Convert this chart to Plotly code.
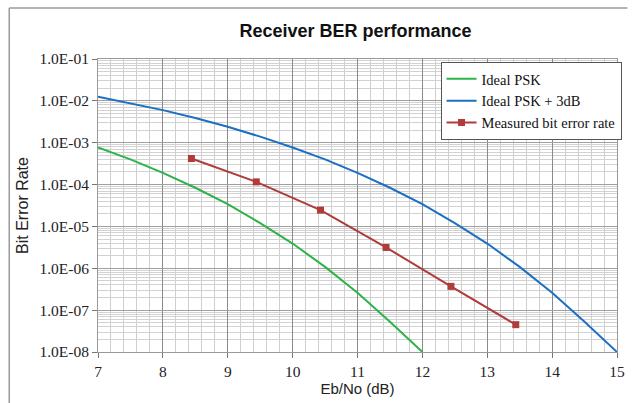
import plotly.graph_objects as go

# ---- data ----
ebno_ideal = [7.0, 7.5, 8.0, 8.5, 9.0, 9.5, 10.0, 10.5, 11.0, 11.5, 12.0]
ber_ideal = [7.7e-4, 4.0e-4, 1.9e-4, 8.4e-5, 3.4e-5, 1.2e-5, 3.9e-6, 1.08e-6, 2.6e-7, 5.3e-8, 1.0e-8]

ebno_3db = [7.0, 7.5, 8.0, 8.5, 9.0, 9.5, 10.0, 10.5, 11.0, 11.5, 12.0, 12.5, 13.0, 13.5, 14.0, 14.5, 15.0]
ber_3db = [1.25e-2, 8.8e-3, 6.0e-3, 3.9e-3, 2.4e-3, 1.4e-3, 7.7e-4, 4.0e-4, 1.9e-4, 8.4e-5,
           3.4e-5, 1.2e-5, 3.9e-6, 1.08e-6, 2.6e-7, 5.3e-8, 1.0e-8]

ebno_meas = [8.44, 9.44, 10.43, 11.44, 12.44, 13.44]
ber_meas = [4.2e-4, 1.16e-4, 2.45e-5, 3.15e-6, 3.7e-7, 4.5e-8]

y_tick_vals = [1e-1, 1e-2, 1e-3, 1e-4, 1e-5, 1e-6, 1e-7, 1e-8]
y_tick_text = ["1.0E-01", "1.0E-02", "1.0E-03", "1.0E-04", "1.0E-05", "1.0E-06", "1.0E-07", "1.0E-08"]
x_tick_vals = [7, 8, 9, 10, 11, 12, 13, 14, 15]

GREEN = "#2db34a"
BLUE = "#1c6fc2"
RED = "#b03b3b"

fig = go.Figure()
fig.add_trace(go.Scatter(x=ebno_ideal, y=ber_ideal, mode="lines", name="Ideal PSK",
                         line=dict(color=GREEN, width=2)))
fig.add_trace(go.Scatter(x=ebno_3db, y=ber_3db, mode="lines", name="Ideal PSK + 3dB",
                         line=dict(color=BLUE, width=2)))
fig.add_trace(go.Scatter(x=ebno_meas, y=ber_meas, mode="lines+markers", name="Measured bit error rate",
                         line=dict(color=RED, width=2),
                         marker=dict(symbol="square", size=7, color=RED)))

minor_y = []
for e in range(-8, -1):
    for d in range(2, 10):
        minor_y.append(d * 10.0 ** e)

tickfont = dict(family="Liberation Serif, Times New Roman, serif", size=15.5, color="#222")

fig.update_layout(
    width=635, height=403,
    margin=dict(l=97.5, r=9.5, t=59, b=51),
    paper_bgcolor="white", plot_bgcolor="white",
    title=dict(text="<b>Receiver BER performance</b>", x=0.56, xanchor="center", y=0.925, yanchor="middle",
               font=dict(family="Liberation Sans, Arial, sans-serif", size=18, color="#111")),
    showlegend=True,
    legend=dict(x=0.66, y=0.99, xanchor="left", yanchor="top",
                bgcolor="white", bordercolor="#555", borderwidth=1,
                font=dict(family="Liberation Serif, Times New Roman, serif", size=14.5, color="#111"),
                itemwidth=30, tracegroupgap=0),
    xaxis=dict(range=[7, 15], tickvals=x_tick_vals, ticks="outside", ticklen=5, tickcolor="#777",
               showline=True, linecolor="#999", mirror=True,
               showgrid=True, gridcolor="#8a8a8a", gridwidth=1,
               minor=dict(dtick=0.2, showgrid=True, gridcolor="#cfcfcf", gridwidth=1),
               tickfont=tickfont, zeroline=False,
               title=dict(text="Eb/No (dB)", standoff=2,
                          font=dict(family="Liberation Sans, Arial, sans-serif", size=15, color="#222"))),
    yaxis=dict(type="log", range=[-8, -1], tickvals=y_tick_vals, ticktext=y_tick_text,
               ticks="outside", ticklen=5, tickcolor="#777",
               showline=True, linecolor="#999", mirror=True,
               showgrid=True, gridcolor="#a0a0a0", gridwidth=1,
               minor=dict(tickvals=minor_y, showgrid=True, gridcolor="#d2d2d2", gridwidth=1),
               tickfont=tickfont, zeroline=False,
               title=dict(text="Bit Error Rate", standoff=6,
                          font=dict(family="Liberation Sans, Arial, sans-serif", size=16, color="#222"))),
    shapes=[
        dict(type="line", xref="paper", yref="paper", x0=-0.171, x1=1.02, y0=1.174, y1=1.174,
             line=dict(color="#9a9a9a", width=1.5)),
        dict(type="line", xref="paper", yref="paper", x0=-0.171, x1=-0.171, y0=1.174, y1=-0.3,
             line=dict(color="#9a9a9a", width=1.5)),
    ],
)

fig.write_html("out.html", config={"displayModeBar": False},
               post_script="document.body.style.margin='0';")
